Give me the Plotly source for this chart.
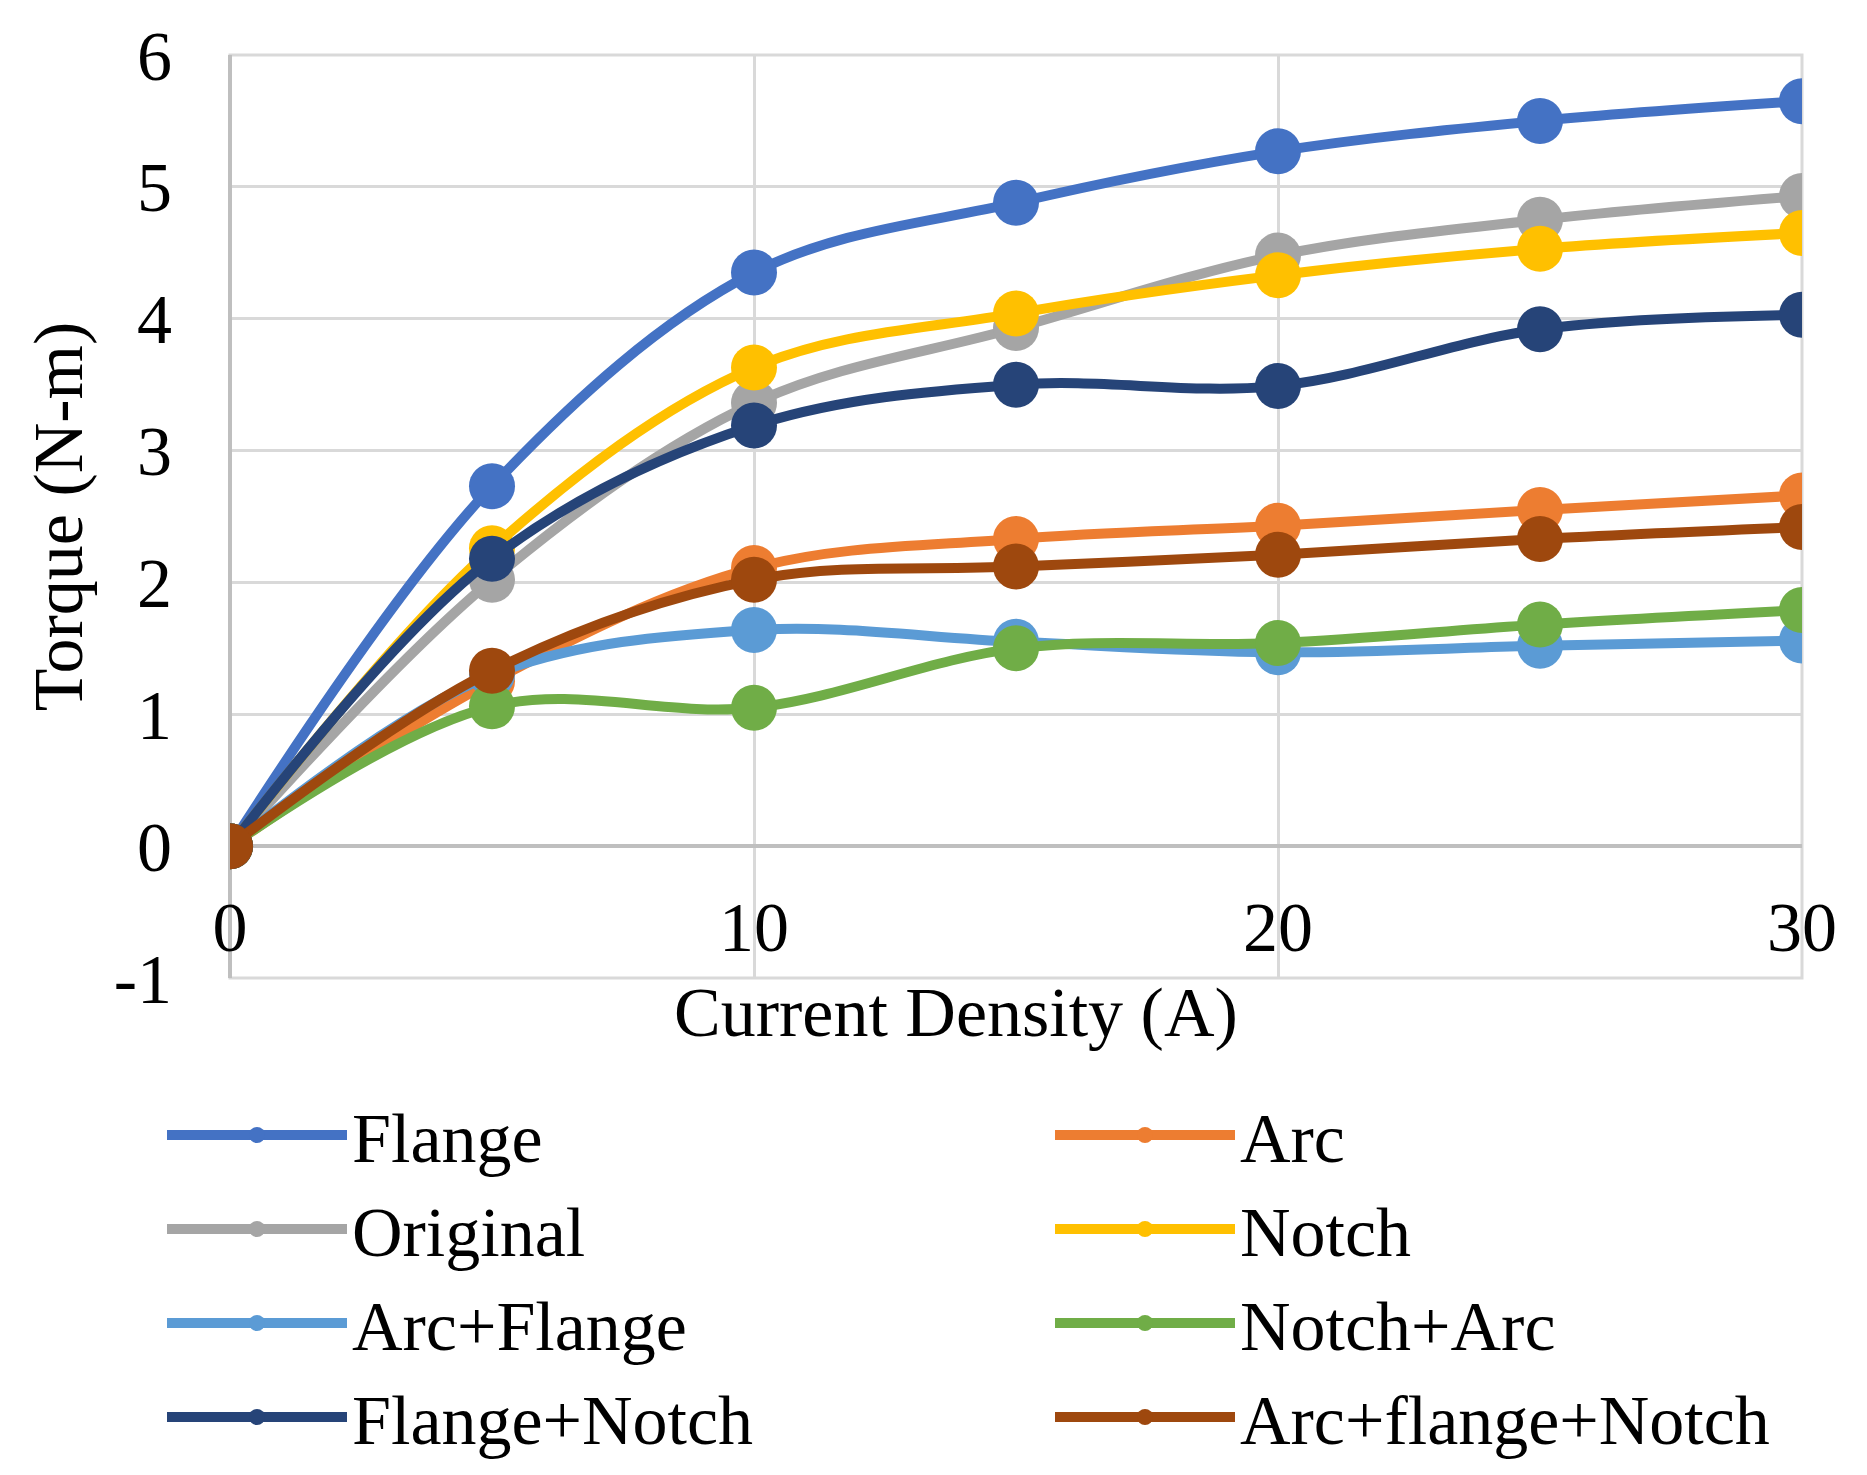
import plotly.graph_objects as go

current = [0, 5, 10, 15, 20, 25, 30]

series_names = ["Flange", "Arc", "Original", "Notch",
                "Arc+Flange", "Notch+Arc", "Flange+Notch", "Arc+flange+Notch"]

flange = [0, 2.73, 4.35, 4.88, 5.27, 5.50, 5.65]
arc = [0, 1.25, 2.11, 2.33, 2.43, 2.55, 2.66]
original = [0, 2.02, 3.36, 3.93, 4.48, 4.75, 4.93]
notch = [0, 2.26, 3.63, 4.04, 4.33, 4.53, 4.65]
arc_flange = [0, 1.30, 1.64, 1.55, 1.47, 1.52, 1.56]
notch_arc = [0, 1.06, 1.05, 1.50, 1.54, 1.68, 1.79]
flange_notch = [0, 2.18, 3.19, 3.50, 3.49, 3.92, 4.03]
arc_flange_notch = [0, 1.33, 2.02, 2.12, 2.21, 2.33, 2.42]

series_values = [flange, arc, original, notch, arc_flange, notch_arc,
                 flange_notch, arc_flange_notch]

colors = ["#4472C4", "#ED7D31", "#A5A5A5", "#FFC000",
          "#5B9BD5", "#70AD47", "#264478", "#9E480E"]

x_ticks = [0, 10, 20, 30]
y_ticks = [-1, 0, 1, 2, 3, 4, 5, 6]

FONT = "Liberation Serif, Times New Roman, serif"

# figure is offset by the page's default 8px body margin
W, H = 1859, 1467
L, R, T, B = 222, 65, 47, 497
PW, PH = W - L - R, H - T - B

fig = go.Figure()
for name, vals, col in zip(series_names, series_values, colors):
    fig.add_trace(go.Scatter(
        x=current, y=vals, name=name, mode="lines+markers",
        line=dict(color=col, width=10, shape="spline", smoothing=1),
        marker=dict(color=col, size=46),
    ))

fig.update_layout(
    width=W, height=H,
    paper_bgcolor="white", plot_bgcolor="white",
    margin=dict(l=L, r=R, t=T, b=B, autoexpand=False),
    font=dict(family=FONT, size=70, color="black"),
    xaxis=dict(
        range=[0, 30], tickvals=x_ticks, ticktext=[str(v) for v in x_ticks],
        showgrid=True, gridcolor="#D9D9D9", gridwidth=3,
        zeroline=True, zerolinecolor="#BFBFBF", zerolinewidth=4,
        showline=False, anchor="free", position=1/7,
        ticks="", ticklabelstandoff=34,
        tickfont=dict(family=FONT, size=70, color="black"),
    ),
    yaxis=dict(
        range=[-1, 6], tickvals=y_ticks, ticktext=[str(v) for v in y_ticks],
        domain=[0, 1],
        showgrid=True, gridcolor="#D9D9D9", gridwidth=3,
        zeroline=True, zerolinecolor="#BFBFBF", zerolinewidth=4,
        showline=False, ticks="", ticklabelstandoff=57,
        tickfont=dict(family=FONT, size=70, color="black"),
        title=dict(text="Torque (N-m)", font=dict(family=FONT, size=70, color="black"), standoff=8),
    ),
    legend=dict(
        orientation="h", x=(154 - L) / PW, xanchor="left",
        y=(H - B - 1075) / PH, yanchor="top",
        itemwidth=180, entrywidth=693, entrywidthmode="pixels",
        font=dict(family=FONT, size=70, color="black"),
        itemsizing="trace", bgcolor="rgba(0,0,0,0)",
    ),
    shapes=[dict(
        type="rect", xref="x domain", yref="y domain",
        x0=0, x1=1, y0=0, y1=1, layer="below",
        line=dict(color="#D9D9D9", width=3),
    )],
    annotations=[dict(
        text="Current Density (A)", xref="paper", yref="paper",
        x=(948 - L) / PW, y=(H - B - 1005) / PH,
        xanchor="center", yanchor="middle", showarrow=False,
        font=dict(family=FONT, size=70, color="black"),
    )],
)

fig.write_html("out.html")
